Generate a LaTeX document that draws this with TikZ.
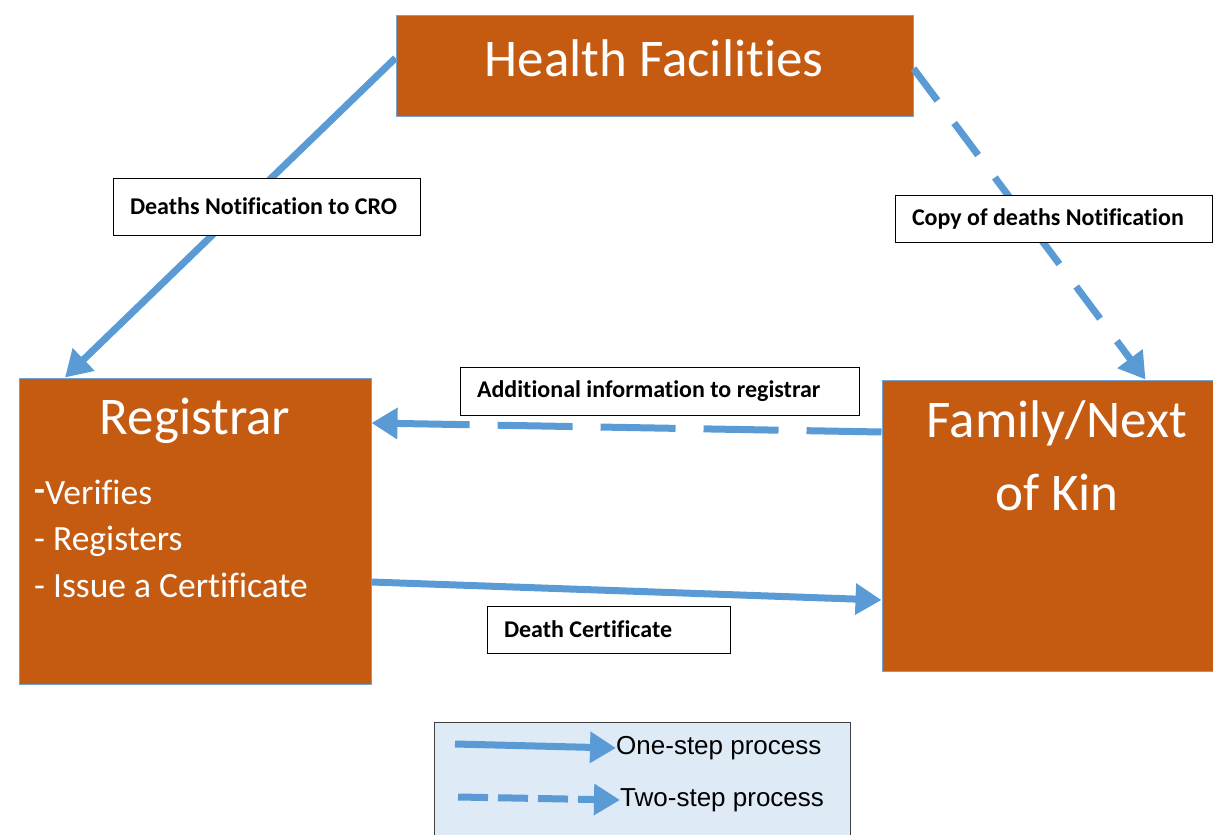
\documentclass[tikz,border=0pt]{standalone}
\usepackage{fontspec}
\setmainfont[Ligatures=NoCommon]{Carlito}
\newfontfamily\legendfont{Liberation Sans}
\usetikzlibrary{arrows.meta,calc}
\definecolor{boxfill}{HTML}{C55A11}
\definecolor{boxedge}{HTML}{6FA4D8}
\definecolor{arrowblue}{HTML}{5B9BD5}
\definecolor{legendfill}{HTML}{DEEAF6}
\tikzset{
  mainbox/.style={draw=boxedge, line width=1pt, fill=boxfill, inner sep=0pt},
  lblbox/.style={draw=black, line width=1pt, fill=white, inner ysep=0pt, inner xsep=17pt, align=flush left, font=\bfseries\fontsize{24}{28}\selectfont, text=black},
  boxtext/.style={text=white, inner sep=0pt},
  bigtext/.style={boxtext, font=\fontsize{53}{64}\selectfont},
  itemtext/.style={boxtext, anchor=west, font=\fontsize{35.5}{42}\selectfont},
  flow/.style={draw=arrowblue, line width=7pt, -{Triangle[length=26pt,width=30pt]}},
  flowdash/.style={flow, dash pattern=on 40pt off 28pt},
  flowlongdash/.style={flow, dash pattern=on 75pt off 28pt},
  legtext/.style={anchor=west, inner sep=0pt, font=\legendfont\fontsize{26}{30}\selectfont},
}
\begin{document}
\begin{tikzpicture}[x=1pt,y=-1pt]
\useasboundingbox (0,0) rectangle (1213,835);

% main boxes
\node[mainbox, minimum width=517pt, minimum height=101pt] (hf) at (654.5,65.5) {};
\node[bigtext] (hft) at (654,58) {Health Facilities};

\node[mainbox, minimum width=352pt, minimum height=306pt] (reg) at (195,531) {};
\node[bigtext] (regt) at (195,421) {Registrar};
\node[itemtext] (reg1) at (34,492) {\raisebox{3pt}{\textbf{-}}Verifies};
\node[itemtext] (reg2) at (34,541) {- Registers};
\node[itemtext] (reg3) at (34,585) {- Issue a Certificate};

\node[mainbox, minimum width=331pt, minimum height=291pt] (fam) at (1047.5,525.5) {};
\node[bigtext] (famt1) at (1057,423) {Family/Next};
\node[bigtext] (famt2) at (1057,492) {of Kin};

% connectors
\draw[flow] ([yshift=7.5pt]hf.west) -- ([xshift=-130pt]reg.north);
\draw[flowdash] ([yshift=-3pt]hf.east) -- ([xshift=98pt]fam.north);
\draw[flowlongdash] ([yshift=93.5pt]fam.west) -- ([yshift=108pt]reg.east);
\draw[flow] ([yshift=-51pt]reg.east) -- ([yshift=-74.5pt]fam.west);

% labels
\node[lblbox, text width=273pt, minimum height=57pt] (l1) at (266.5,206.5) {Deaths Notification to CRO};
\node[lblbox, text width=283pt, minimum height=47pt] (l2) at (1053.5,218.5) {Copy of deaths Notification};
\node[lblbox, text width=365pt, minimum height=48pt] (l3) at (659.5,391) {Additional information to registrar};
\node[lblbox, text width=209pt, minimum height=47pt] (l4) at (608.5,629.5) {Death Certificate};

% legend
\node[draw=black!75, line width=1pt, fill=legendfill, minimum width=416pt, minimum height=120pt, inner sep=0pt] (leg) at (642,782) {};
\node[legtext] (legt1) at (616,748) {One-step process};
\node[legtext] (legt2) at (620,800) {Two-step process};
\coordinate (la1) at (455,744);
\coordinate (la2) at (458,797);
\draw[flow] (la1) -- (legt1.west);
\draw[flow, dash pattern=on 30pt off 10pt] (la2) -- (legt2.west);
\end{tikzpicture}
\end{document}
